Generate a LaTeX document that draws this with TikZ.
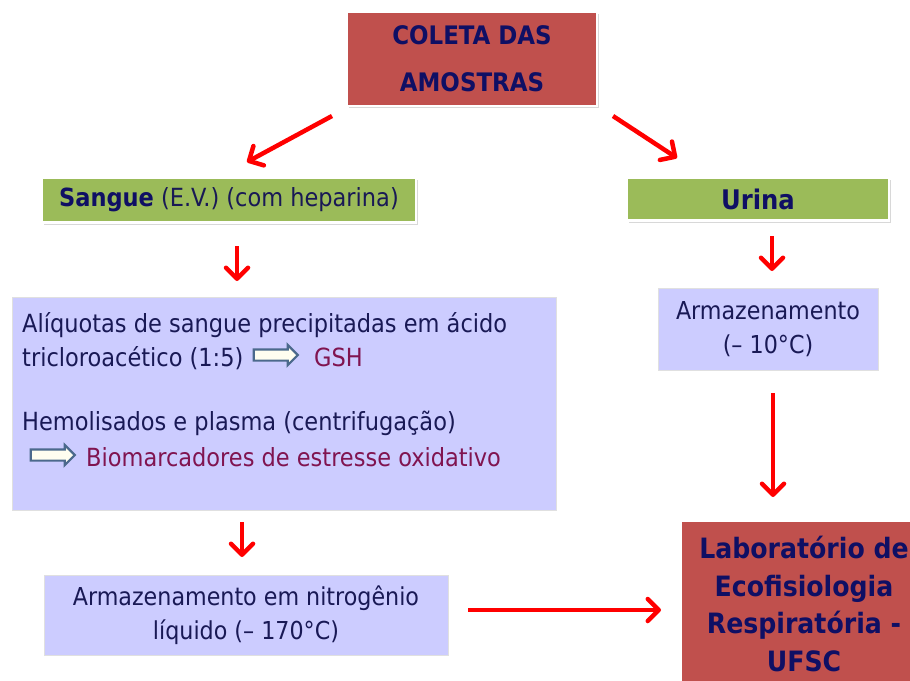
\documentclass[tikz,border=0pt]{standalone}
\usepackage{fontspec}
\setmainfont{DejaVu Sans Condensed}
\usetikzlibrary{arrows.meta,shapes.arrows,shadows}
\definecolor{boxred}{RGB}{192,80,77}
\definecolor{boxgreen}{RGB}{155,187,89}
\definecolor{boxblue}{RGB}{204,204,255}
\definecolor{navy}{RGB}{15,15,100}
\definecolor{txt}{RGB}{25,25,85}
\definecolor{maroon}{RGB}{128,20,80}
\definecolor{steel}{RGB}{75,105,140}
\definecolor{arrred}{RGB}{255,0,0}
\tikzset{
  box/.style={rectangle, draw=white, line width=2.5pt, inner sep=0pt, drop shadow={shadow xshift=1.5pt, shadow yshift=-2pt, opacity=0.3}},
  redbox/.style={box, fill=boxred, text=navy, font=\bfseries, align=center},
  greenbox/.style={box, fill=boxgreen, text=txt},
  bluebox/.style={rectangle, fill=boxblue, draw=white!88!black, line width=0.6pt, text=txt, align=center},
  redarrow/.style={draw=arrred, line width=4.5pt, -{Straight Barb[length=11pt,width=22pt,line width=4.5pt,round]}},
  hollow/.style={single arrow, draw=steel, fill=yellow!6, line width=2.2pt, minimum height=44pt, inner xsep=0pt, inner ysep=4.5pt, single arrow head extend=4.5pt},
  line/.style={anchor=base west, inner sep=0pt, text=txt, font=\fontsize{25}{30}\selectfont}
}
\begin{document}
\begin{tikzpicture}[x=1pt,y=-1pt]
\useasboundingbox[fill=white] (0,0) rectangle (910,680);

\node[redbox, minimum width=250pt, minimum height=94pt, font=\fontsize{25.5}{47}\selectfont\bfseries] (coleta) at (472,59) {COLETA DAS\\AMOSTRAS};

\node[greenbox, minimum width=374pt, minimum height=45pt, font=\fontsize{25}{30}\selectfont] (sangue) at (229,200) {\textbf{\color{navy}Sangue} (E.V.) (com heparina)};

\node[greenbox, minimum width=262pt, minimum height=43pt, font=\fontsize{27}{30}\selectfont\bfseries, text=navy] (urina) at (758,199) {Urina};

\node[bluebox, minimum width=544pt, minimum height=213pt] (proc) at (284,403.5) {};
\node[line] (l1) at (22,332) {Alíquotas de sangue precipitadas em ácido};
\node[line] (l2) at (22,366) {tricloroacético (1:5)};
\node[hollow] (h1) at (273,355) {};
\node[line, text=maroon] (gsh) at (314,366) {GSH};
\node[line] (l3) at (22,430) {Hemolisados e plasma (centrifugação)};
\node[hollow] (h2) at (50,455) {};
\node[line, text=maroon] (bio) at (86,466) {Biomarcadores de estresse oxidativo};

\node[bluebox, minimum width=220pt, minimum height=82pt, font=\fontsize{24.7}{34}\selectfont] (armu) at (768,329) {Armazenamento\\(– 10°C)};

\node[bluebox, minimum width=404pt, minimum height=80pt, font=\fontsize{24.7}{34}\selectfont] (armn) at (246,615) {Armazenamento em nitrogênio\\líquido (– 170°C)};

\node[redbox, minimum width=254pt, minimum height=178pt] (lab) at (808,610) {};
\node[font=\fontsize{28}{37.5}\selectfont\bfseries, text=navy, align=center] (labt) at (804,604) {Laboratório de\\Ecofisiologia\\Respiratória -\\UFSC};

\coordinate (a1s) at (332,116); \coordinate (a1e) at (247,162);
\coordinate (a2s) at (613,116); \coordinate (a2e) at (677,158);
\coordinate (a3s) at (237,246); \coordinate (a3e) at (237,281);
\coordinate (a4s) at (772,236); \coordinate (a4e) at (772,271);
\coordinate (a5s) at (242,522); \coordinate (a5e) at (242,557);
\coordinate (a6s) at (773,393); \coordinate (a6e) at (773,497);
\coordinate (a7s) at (468,610); \coordinate (a7e) at (661,610);

\draw[redarrow] (a1s) -- (a1e);
\draw[redarrow] (a2s) -- (a2e);
\draw[redarrow] (a3s) -- (a3e);
\draw[redarrow] (a4s) -- (a4e);
\draw[redarrow] (a5s) -- (a5e);
\draw[redarrow] (a6s) -- (a6e);
\draw[redarrow] (a7s) -- (a7e);
\end{tikzpicture}
\end{document}
